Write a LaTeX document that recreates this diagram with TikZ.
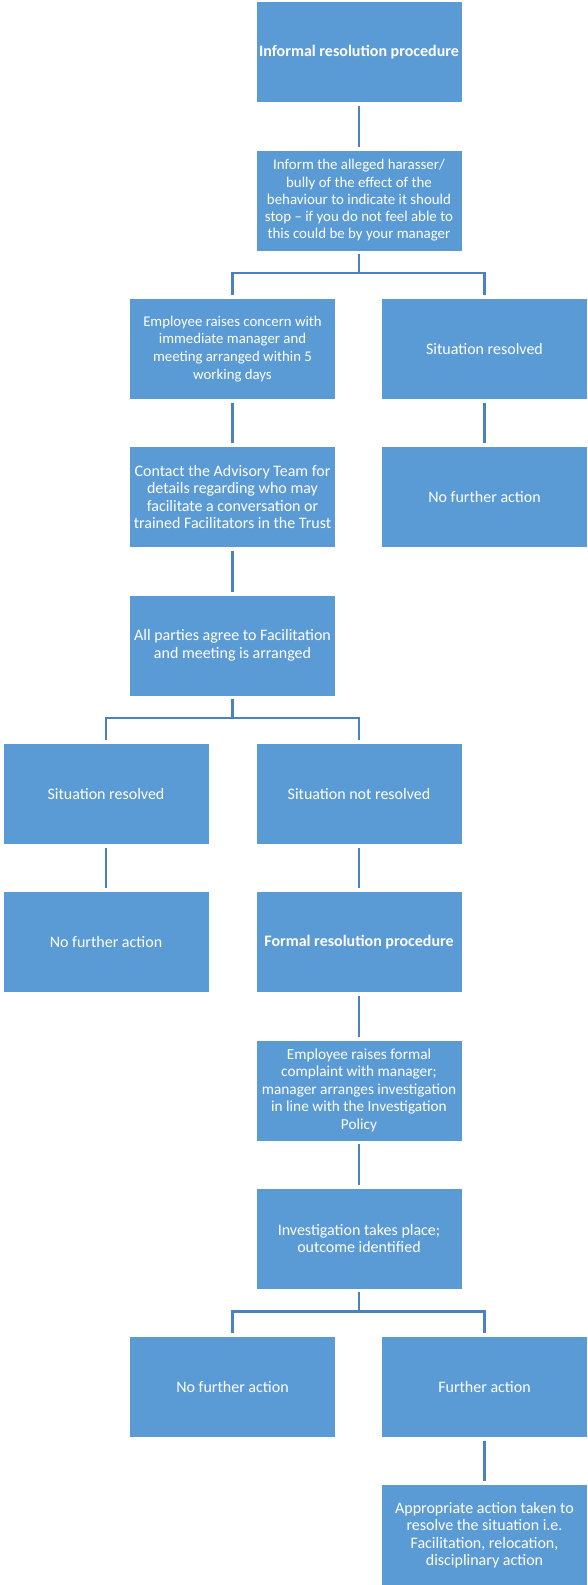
\documentclass[tikz,border=0pt]{standalone}
\usepackage{fontspec}
\setmainfont{Carlito}
\usepackage{tikz}

\definecolor{boxblue}{HTML}{5B9BD5}
\definecolor{lineblue}{HTML}{4A82BF}

\begin{document}
\begin{tikzpicture}[x=1pt, y=-1pt]
  \tikzset{BOX/.style={fill=boxblue, draw=white, line width=0.6pt, text=white, minimum height=101pt, minimum width=206pt, inner sep=0pt, align=center, font=\fontsize{16}{17.4}\selectfont} }
  \tikzset{LINK/.style={draw=lineblue, line width=2.2pt, shorten <=3pt, shorten >=3pt} }

  \useasboundingbox (0,0) rectangle (587,1585);

  \node[BOX] (inf)   at (359.0,   52.0) {\textbf{Informal resolution procedure}};
  \node[BOX, font=\fontsize{14.9}{17.3}\selectfont] (tell)  at (359.0,  200.5) {Inform the alleged harasser/\\bully of the effect of the\\behaviour to indicate it should\\stop -- if you do not feel able to\\this could be by your manager};

  \node[BOX, font=\fontsize{14.8}{17.6}\selectfont] (raise) at (232.5,  348.8) {Employee raises concern with\\immediate manager and\\meeting arranged within 5\\working days};
  \node[BOX] (res1)  at (484.5,  348.8) {Situation resolved};
  \node[BOX] (adv)   at (232.5,  497.1) {Contact the Advisory Team for\\details regarding who may\\facilitate a conversation or\\trained Facilitators in the Trust};
  \node[BOX] (nfa1)  at (484.5,  497.1) {No further action};
  \node[BOX] (agree) at (232.5,  645.4) {All parties agree to Facilitation\\and meeting is arranged};

  \node[BOX] (res2)  at (106.0,  793.7) {Situation resolved};
  \node[BOX] (notres) at (359.0, 793.7) {Situation not resolved};
  \node[BOX] (nfa2)  at (106.0,  942.0) {No further action};
  \node[BOX] (form)  at (359.0,  942.0) {\textbf{Formal resolution procedure}};
  \node[BOX, font=\fontsize{15.3}{17.5}\selectfont] (compl) at (359.0, 1090.3) {Employee raises formal\\complaint with manager;\\manager arranges investigation\\in line with the Investigation\\Policy};
  \node[BOX] (inv)   at (359.0, 1238.6) {Investigation takes place;\\outcome identified};

  \node[BOX] (nfa3)  at (232.5, 1386.9) {No further action};
  \node[BOX] (fur)   at (484.5, 1386.9) {Further action};
  \node[BOX] (act)   at (484.5, 1535.2) {Appropriate action taken to\\resolve the situation i.e.\\Facilitation, relocation,\\disciplinary action};

  \draw[LINK] (inf) -- (tell);
  \draw[LINK] (tell.south) -- ++(0,22) -| (raise.north);
  \draw[LINK, shorten <=0pt] (tell.south) ++(0,22) -| (res1.north);
  \draw[LINK] (raise) -- (adv);
  \draw[LINK] (res1) -- (nfa1);
  \draw[LINK] (adv) -- (agree);
  \draw[LINK] (agree.south) -- ++(0,22) -| (res2.north);
  \draw[LINK, shorten <=0pt] (agree.south) ++(0,22) -| (notres.north);
  \draw[LINK] (res2) -- (nfa2);
  \draw[LINK] (notres) -- (form);
  \draw[LINK] (form) -- (compl);
  \draw[LINK] (compl) -- (inv);
  \draw[LINK] (inv.south) -- ++(0,22) -| (nfa3.north);
  \draw[LINK, shorten <=0pt] (inv.south) ++(0,22) -| (fur.north);
  \draw[LINK] (fur) -- (act);
\end{tikzpicture}
\end{document}
